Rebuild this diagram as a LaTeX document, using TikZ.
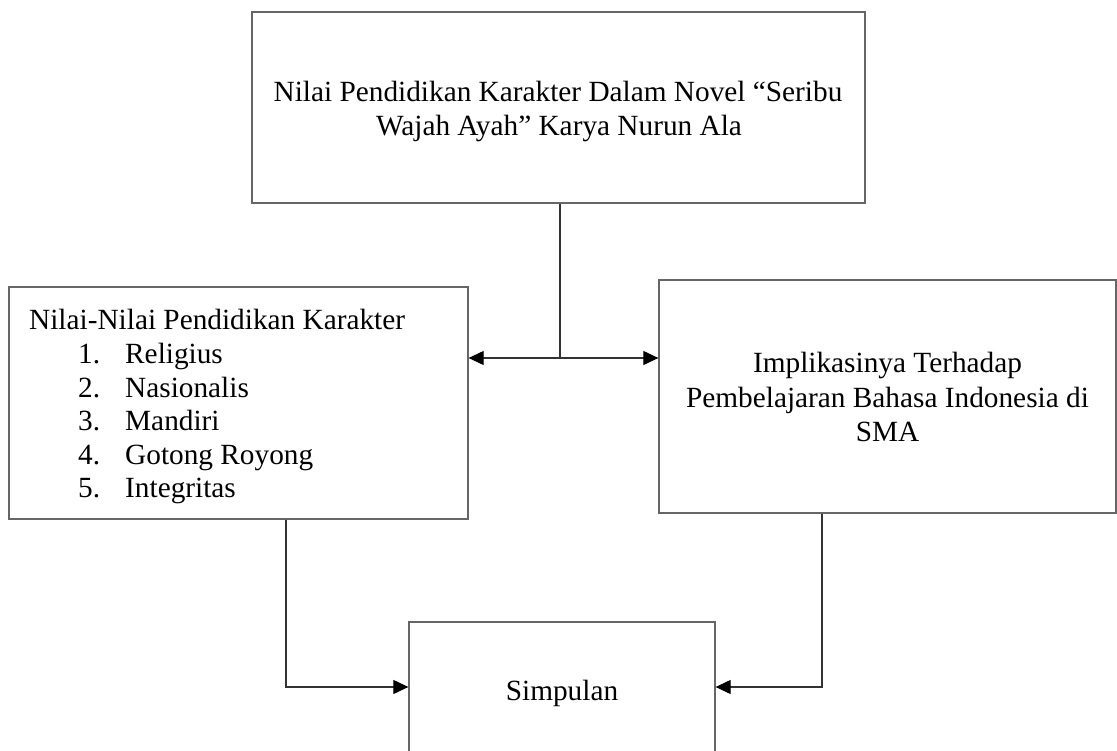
\documentclass[tikz,border=0pt]{standalone}
\usepackage{fontspec}
\setmainfont{Liberation Serif}
\usetikzlibrary{arrows.meta}
\begin{document}
\begin{tikzpicture}[x=1pt,y=-1pt,
  box/.style={draw=black!60, line width=1.3pt, inner sep=0pt, fill=white},
  txt/.style={font=\fontsize{29.3}{33.7}\selectfont, inner sep=0pt},
  conn/.style={draw=black!80, line width=1.1pt},
  arr/.style={conn, -{Triangle[length=15pt,width=14pt,color=black,fill=black]}}]
\useasboundingbox[fill=white] (0,0) rectangle (1117,751);
% boxes
\node[box, minimum width=613pt, minimum height=191pt] (top) at (558.5,107.5) {};
\node[box, minimum width=459pt, minimum height=232pt] (nilai) at (238.5,403) {};
\node[box, minimum width=457pt, minimum height=233pt] (impl) at (887.5,396.5) {};
\node[box, minimum width=306pt, minimum height=130pt] (simp) at (562,687) {};
% texts
\node[txt, anchor=base] (t1) at (558,102) {Nilai Pendidikan Karakter Dalam Novel “Seribu};
\node[txt, anchor=base] (t2) at (559,136) {Wajah Ayah” Karya Nurun Ala};
\node[txt, anchor=base west] (n0) at (29,330) {Nilai-Nilai Pendidikan Karakter};
\foreach \t [count=\k] in {Religius,Nasionalis,Mandiri,Gotong Royong,Integritas}
  \node[txt, anchor=base west] (n\k) at (78,{330+33.5*\k}) {\makebox[47pt][l]{\k.}\t};
\node[txt, anchor=base] (i1) at (887.5,373) {Implikasinya Terhadap};
\node[txt, anchor=base] (i2) at (887.5,407) {Pembelajaran Bahasa Indonesia di};
\node[txt, anchor=base] (i3) at (887.5,441) {SMA};
\node[txt, anchor=base] (s1) at (562,700) {Simpulan};
% connectors
\coordinate (j) at (560,358);
\draw[conn] (top.south -| j) -- (j);
\draw[arr] (j) -- (nilai.east |- j);
\draw[arr] (j) -- (impl.west |- j);
\coordinate (a) at (286,519);
\coordinate (b) at (822,513);
\draw[arr] (nilai.south -| a) |- (simp.west);
\draw[arr] (impl.south -| b) |- (simp.east);
\end{tikzpicture}
\end{document}
